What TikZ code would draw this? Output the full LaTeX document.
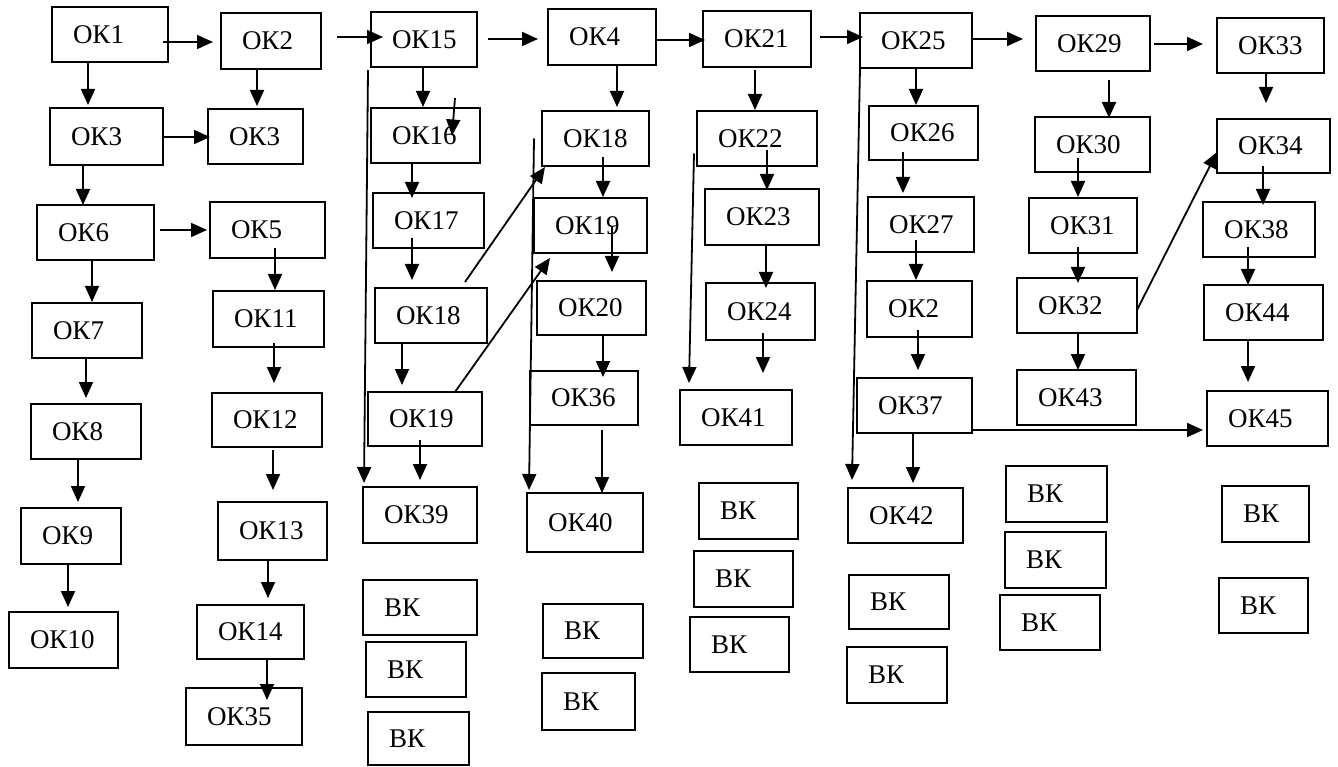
\documentclass[tikz,border=0pt]{standalone}
\usepackage{fontspec}
\setmainfont{Liberation Serif}
\usetikzlibrary{arrows.meta,calc}
\tikzset{
  bx/.style={draw=black, line width=2pt, inner xsep=21pt, inner ysep=0pt, outer sep=0pt,
    align=left, font=\fontsize{27}{30}\selectfont, text=black},
  arr/.style={draw=black, line width=1.8pt, -{Triangle[length=16pt,width=14pt]}},
  ln/.style={draw=black, line width=1.8pt}
}
\newcommand\mkbox[6]{%
  \pgfmathsetmacro\bxw{#4-#2-42}%
  \pgfmathsetmacro\bxh{#5-#3}%
  \pgfmathsetmacro\bxcx{(#2+#4)/2}%
  \pgfmathsetmacro\bxcy{(#3+#5)/2}%
  \node[bx, text width=\bxw pt, minimum height=\bxh pt] (#1) at (\bxcx,\bxcy) {#6};}
\newcommand\varr[5]{\draw[arr, shorten <=#4pt, shorten >=#5pt] (#2.south -| #1,0) -- (#3.north -| #1,0);}
\newcommand\harr[5]{\draw[arr, shorten <=#4pt, shorten >=#5pt] (#2.east |- 0,#1) -- (#3.west |- 0,#1);}
\begin{document}
\begin{tikzpicture}[x=1pt,y=-1pt]
\fill[white] (0,0) rectangle (1338,767);
\useasboundingbox (0,0) rectangle (1338,767);
% column 1
\mkbox{ok1}{52}{7}{168}{62}{ОК1}
\mkbox{ok3a}{50}{108}{163}{165}{ОК3}
\mkbox{ok6}{37}{205}{154}{260}{ОК6}
\mkbox{ok7}{32}{303}{142}{358}{ОК7}
\mkbox{ok8}{31}{404}{141}{459}{ОК8}
\mkbox{ok9}{21}{508}{121}{564}{ОК9}
\mkbox{ok10}{9}{612}{118}{668}{ОК10}
% column 2
\mkbox{ok2}{221}{13}{321}{69}{ОК2}
\mkbox{ok3b}{208}{109}{303}{164}{ОК3}
\mkbox{ok5}{210}{202}{325}{258}{ОК5}
\mkbox{ok11}{213}{291}{324}{347}{ОК11}
\mkbox{ok12}{212}{393}{322}{447}{ОК12}
\mkbox{ok13}{218}{502}{327}{560}{ОК13}
\mkbox{ok14}{197}{605}{304}{659}{ОК14}
\mkbox{ok35}{186}{688}{302}{745}{ОК35}
% column 3
\mkbox{ok15}{371}{12}{477}{67}{ОК15}
\mkbox{ok16}{371}{108}{480}{163}{ОК16}
\mkbox{ok17}{373}{193}{484}{248}{ОК17}
\mkbox{ok18a}{375}{288}{487}{343}{ОК18}
\mkbox{ok19a}{368}{392}{482}{446}{ОК19}
\mkbox{ok39}{363}{487}{477}{543}{ОК39}
\mkbox{vk1}{363}{580}{477}{635}{ВК}
\mkbox{vk2}{366}{642}{466}{697}{ВК}
\mkbox{vk3}{368}{712}{469}{765}{ВК}
% column 4
\mkbox{ok4}{548}{9}{656}{65}{ОК4}
\mkbox{ok18b}{542}{111}{649}{166}{ОК18}
\mkbox{ok19b}{534}{198}{647}{253}{ОК19}
\mkbox{ok20}{537}{281}{646}{335}{ОК20}
\mkbox{ok36}{530}{371}{638}{425}{ОК36}
\mkbox{ok40}{527}{493}{643}{552}{ОК40}
\mkbox{vk4}{543}{604}{643}{658}{ВК}
\mkbox{vk5}{542}{673}{635}{730}{ВК}
% column 5
\mkbox{ok21}{703}{11}{811}{67}{ОК21}
\mkbox{ok22}{697}{111}{817}{166}{ОК22}
\mkbox{ok23}{705}{189}{819}{245}{ОК23}
\mkbox{ok24}{706}{283}{815}{340}{ОК24}
\mkbox{ok41}{680}{390}{792}{445}{ОК41}
\mkbox{vk6}{699}{483}{798}{539}{ВК}
\mkbox{vk7}{694}{551}{793}{607}{ВК}
\mkbox{vk8}{690}{617}{789}{672}{ВК}
% column 6
\mkbox{ok25}{860}{13}{972}{68}{ОК25}
\mkbox{ok26}{869}{106}{978}{160}{ОК26}
\mkbox{ok27}{868}{197}{974}{252}{ОК27}
\mkbox{ok2b}{867}{281}{972}{337}{ОК2}
\mkbox{ok37}{857}{378}{972}{433}{ОК37}
\mkbox{ok42}{848}{488}{963}{543}{ОК42}
\mkbox{vk9}{849}{575}{949}{629}{ВК}
\mkbox{vk10}{847}{647}{947}{703}{ВК}
% column 7
\mkbox{ok29}{1036}{16}{1150}{71}{ОК29}
\mkbox{ok30}{1035}{117}{1150}{172}{ОК30}
\mkbox{ok31}{1029}{198}{1137}{253}{ОК31}
\mkbox{ok32}{1017}{278}{1137}{333}{ОК32}
\mkbox{ok43}{1017}{370}{1136}{425}{ОК43}
\mkbox{vk11}{1006}{466}{1107}{522}{ВК}
\mkbox{vk12}{1005}{532}{1106}{588}{ВК}
\mkbox{vk13}{1000}{595}{1100}{650}{ВК}
% column 8
\mkbox{ok33}{1217}{18}{1324}{73}{ОК33}
\mkbox{ok34}{1217}{119}{1330}{173}{ОК34}
\mkbox{ok38}{1203}{202}{1315}{257}{ОК38}
\mkbox{ok44}{1204}{285}{1323}{340}{ОК44}
\mkbox{ok45}{1207}{391}{1328}{446}{ОК45}
\mkbox{vk14}{1222}{486}{1309}{542}{ВК}
\mkbox{vk15}{1219}{578}{1308}{633}{ВК}
% vertical arrows
\varr{88}{ok1}{ok3a}{0}{3}
\varr{257}{ok2}{ok3b}{0}{3}
\varr{83}{ok3a}{ok6}{0}{0}
\varr{92}{ok6}{ok7}{0}{1}
\varr{275}{ok5}{ok11}{-10}{1}
\varr{86}{ok7}{ok8}{0}{6}
\varr{274}{ok11}{ok12}{-4}{10}
\varr{78}{ok8}{ok9}{0}{6}
\varr{273}{ok12}{ok13}{3}{12}
\varr{68}{ok9}{ok10}{0}{5}
\varr{268}{ok13}{ok14}{0}{7}
\varr{267}{ok14}{ok35}{0}{-12}
\varr{423}{ok15}{ok16}{0}{1}
\varr{412}{ok16}{ok17}{0}{-5}
\varr{412}{ok17}{ok18a}{-10}{8}
\varr{402}{ok18a}{ok19a}{0}{7}
\varr{420}{ok19a}{ok39}{-6}{7}
\varr{617}{ok4}{ok18b}{0}{4}
\varr{603}{ok18b}{ok19b}{-9}{1}
\varr{612}{ok19b}{ok20}{-26}{9}
\varr{603}{ok20}{ok36}{0}{-6}
\varr{602}{ok36}{ok40}{5}{0}
\varr{755}{ok21}{ok22}{3}{1}
\varr{767}{ok22}{ok23}{-16}{-1}
\varr{766}{ok23}{ok24}{0}{-5}
\varr{763}{ok24}{ok41}{-7}{17}
\varr{916}{ok25}{ok26}{0}{1}
\varr{903}{ok26}{ok27}{-8}{4}
\varr{916}{ok27}{ok2b}{-12}{1}
\varr{918}{ok2b}{ok37}{-7}{8}
\varr{913}{ok37}{ok42}{0}{5}
\varr{1109}{ok29}{ok30}{9}{-1}
\varr{1078}{ok30}{ok31}{-14}{1}
\varr{1078}{ok31}{ok32}{-6}{-5}
\varr{1078}{ok32}{ok43}{0}{0}
\varr{1266}{ok33}{ok34}{0}{16}
\varr{1263}{ok34}{ok38}{-7}{-3}
\varr{1248}{ok38}{ok44}{-10}{0}
\varr{1248}{ok44}{ok45}{0}{9}
% stray arrow in OK16
\draw[arr] ($(ok16.north -| 455,0)+(0,-10)$) -- (ok16.center -| 452,0);
% horizontal arrows
\harr{42}{ok1}{ok2}{-5}{8}
\harr{137}{ok3a}{ok3b}{0}{-2}
\harr{230}{ok6}{ok5}{6}{3}
\harr{37}{ok2}{ok15}{16}{-12}
\harr{39}{ok15}{ok4}{11}{10}
\harr{40}{ok4}{ok21}{0}{-2}
\harr{37}{ok21}{ok25}{9}{-3}
\harr{39}{ok25}{ok29}{1}{13}
\harr{44}{ok29}{ok33}{4}{14}
\harr{430}{ok37}{ok45}{0}{4}
% long vertical arrows
\draw[arr] ($(ok15.south -| 368,0)+(0,3)$) -- ($(ok39.north -| 364,0)+(0,-4)$);
\draw[arr] (ok18b.west -| 534,0) -- ($(ok40.north -| 529,0)+(0,-3)$);
\draw[arr] ($(ok22.west -| 694,0)+(0,15)$) -- ($(ok41.north -| 689,0)+(0,-7)$);
\draw[arr] (ok25.south west) -- ($(ok42.north -| 852,0)+(0,-8)$);
% diagonal arrows
\draw[arr] ($(ok18a.north -| 465,0)+(0,-6)$) -- ($(ok18b.south west)+(3,1)$);
\draw[arr] (ok19a.north -| 455,0) -- ($(ok19b.south west)+(16,5)$);
\draw[arr] (ok32.east |- 0,310) -- (ok34.west |- 0,152);
\end{tikzpicture}
\end{document}
